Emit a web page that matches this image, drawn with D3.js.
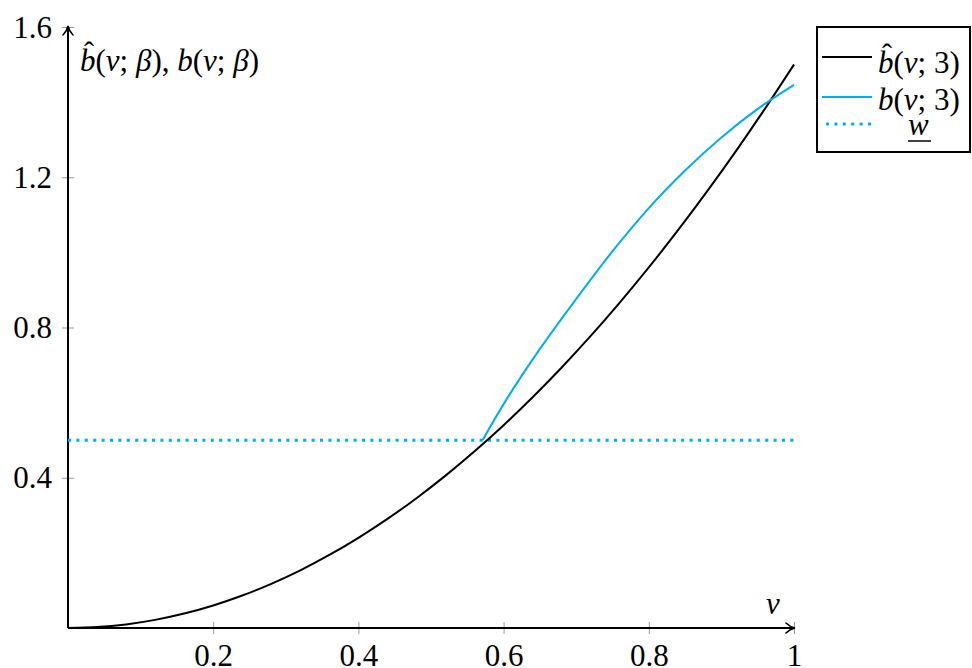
<!DOCTYPE html>
<html>
<head>
<meta charset="utf-8">
<script src="https://cdn.jsdelivr.net/npm/d3@7"></script>
<style>
  body { margin: 0; background: #fff; }
  text { font-family: "Liberation Serif", "DejaVu Serif", serif; fill: #000; }
</style>
</head>
<body>
<script>
var width = 972,
    height = 668;

// b-hat(v;3)
var hatV = [0, 0.04, 0.08, 0.12, 0.16, 0.2, 0.24, 0.28, 0.32, 0.36, 0.4, 0.44, 0.48,
            0.52, 0.56, 0.6, 0.64, 0.68, 0.72, 0.76, 0.8, 0.84, 0.88, 0.92, 0.96, 1];
var hatB = [0, 0.0024, 0.0096, 0.0216, 0.0384, 0.06, 0.0864, 0.1176, 0.1536, 0.1944, 0.24,
            0.2904, 0.3456, 0.4056, 0.4704, 0.54, 0.6144, 0.6936, 0.7776, 0.8664, 0.96,
            1.0584, 1.1616, 1.2696, 1.3824, 1.5];

// b(v;3), blue curve (starts where it meets w)
var bV = [0.571, 0.6, 0.65, 0.7, 0.75, 0.8, 0.85, 0.9, 0.95, 1];
var bB = [0.5, 0.596, 0.743, 0.876, 1.003, 1.118, 1.218, 1.306, 1.382, 1.446];

var wLevel = 0.5;

var xTicks = [0.2, 0.4, 0.6, 0.8, 1];
var xTickLabels = ["0.2", "0.4", "0.6", "0.8", "1"];
var yTicks = [0.4, 0.8, 1.2, 1.6];
var yTickLabels = ["0.4", "0.8", "1.2", "1.6"];

var cyan = "#00aeef";
var fs = 31;

var x = d3.scaleLinear().domain([0, 1]).range([68, 794]);
var y = d3.scaleLinear().domain([0, 1.6]).range([628, 27]);

var svg = d3.select("body").append("svg")
    .attr("width", width)
    .attr("height", height);

svg.append("defs").append("marker")
    .attr("id", "arrow")
    .attr("viewBox", "-10 -6 12 12")
    .attr("refX", 0).attr("refY", 0)
    .attr("markerWidth", 12).attr("markerHeight", 12)
    .attr("markerUnits", "userSpaceOnUse")
    .attr("orient", "auto")
    .append("path")
    .attr("d", "M-8,-5 Q-4,-1 1,0 Q-4,1 -8,5")
    .attr("fill", "none")
    .attr("stroke", "#000")
    .attr("stroke-width", 1.6)
    .attr("stroke-linecap", "round");

// ticks
var xAxis = svg.append("g")
    .attr("transform", "translate(0," + y(0) + ")")
    .call(d3.axisBottom(x).tickValues(xTicks).tickSize(6).tickFormat(function(d, i) { return xTickLabels[i]; }));
xAxis.attr("font-family", null).attr("font-size", null);
xAxis.select(".domain").remove();
xAxis.selectAll(".tick line").attr("y1", -6).attr("y2", 6).attr("stroke", "#999").attr("stroke-width", 1);
xAxis.selectAll(".tick text").attr("y", 38).attr("dy", 0)
    .style("font-size", fs + "px");

var yAxis = svg.append("g")
    .attr("transform", "translate(" + x(0) + ",0)")
    .call(d3.axisLeft(y).tickValues(yTicks).tickSize(6).tickFormat(function(d, i) { return yTickLabels[i]; }));
yAxis.attr("font-family", null).attr("font-size", null);
yAxis.select(".domain").remove();
yAxis.selectAll(".tick line").attr("x1", -6).attr("x2", 6).attr("stroke", "#999").attr("stroke-width", 1);
yAxis.selectAll(".tick text").attr("x", -16).attr("dy", "0.33em")
    .style("font-size", fs + "px");

// axis lines with arrows
svg.append("line")
    .attr("x1", x(0)).attr("y1", y(0)).attr("x2", x(1)).attr("y2", y(0))
    .attr("stroke", "#000").attr("stroke-width", 2)
    .attr("marker-end", "url(#arrow)");
svg.append("line")
    .attr("x1", x(0)).attr("y1", y(0)).attr("x2", x(0)).attr("y2", y(1.6))
    .attr("stroke", "#000").attr("stroke-width", 2)
    .attr("marker-end", "url(#arrow)");

// w level
svg.append("line")
    .attr("x1", x(0)).attr("x2", x(1))
    .attr("y1", y(wLevel)).attr("y2", y(wLevel))
    .attr("stroke", cyan).attr("stroke-width", 3)
    .attr("stroke-dasharray", "3 5.4");

var line = d3.line().curve(d3.curveMonotoneX);

svg.append("path")
    .attr("d", line(hatV.map(function(v, i) { return [x(v), y(hatB[i])]; })))
    .attr("fill", "none").attr("stroke", "#000").attr("stroke-width", 2);

svg.append("path")
    .attr("d", line(bV.map(function(v, i) { return [x(v), y(bB[i])]; })))
    .attr("fill", "none").attr("stroke", cyan).attr("stroke-width", 2);

// math label helper: parts = [[text, italic], ...]
function mathText(g, px, py, parts, size) {
  var t = g.append("text").attr("x", px).attr("y", py).style("font-size", size + "px");
  parts.forEach(function(p) {
    t.append("tspan").text(p[0]).style("font-style", p[1] ? "italic" : "normal");
  });
  return t;
}
function hat(g, px, py, size) {
  g.append("text").attr("x", px).attr("y", py).text("\u02C6")
    .style("font-size", size + "px");
}

// axis titles
mathText(svg, 80, 71, [["b", 1], ["(", 0], ["v", 1], ["; ", 0], ["β", 1], [")", 0], [", ", 0],
  ["b", 1], ["(", 0], ["v", 1], ["; ", 0], ["β", 1], [")", 0]], fs);
hat(svg, 84, 62, 30);
mathText(svg, 766, 614, [["v", 1]], fs);

// legend
var lg = svg.append("g");
lg.append("rect")
    .attr("x", 817).attr("y", 27).attr("width", 153).attr("height", 125)
    .attr("fill", "#fff").attr("stroke", "#000").attr("stroke-width", 2);
lg.append("line").attr("x1", 822).attr("x2", 872).attr("y1", 57).attr("y2", 57)
    .attr("stroke", "#000").attr("stroke-width", 2);
lg.append("line").attr("x1", 822).attr("x2", 872).attr("y1", 97).attr("y2", 97)
    .attr("stroke", cyan).attr("stroke-width", 2);
lg.append("line").attr("x1", 826).attr("x2", 874).attr("y1", 124).attr("y2", 124)
    .attr("stroke", cyan).attr("stroke-width", 3).attr("stroke-dasharray", "3 5.4");
mathText(lg, 878, 73, [["b", 1], ["(", 0], ["v", 1], ["; 3)", 0]], fs);
hat(lg, 882, 64, 30);
mathText(lg, 878, 110, [["b", 1], ["(", 0], ["v", 1], ["; 3)", 0]], fs);
mathText(lg, 908, 135, [["w", 1]], fs);
lg.append("line").attr("x1", 908).attr("x2", 931).attr("y1", 141).attr("y2", 141)
    .attr("stroke", "#000").attr("stroke-width", 1.5);
</script>
</body>
</html>
